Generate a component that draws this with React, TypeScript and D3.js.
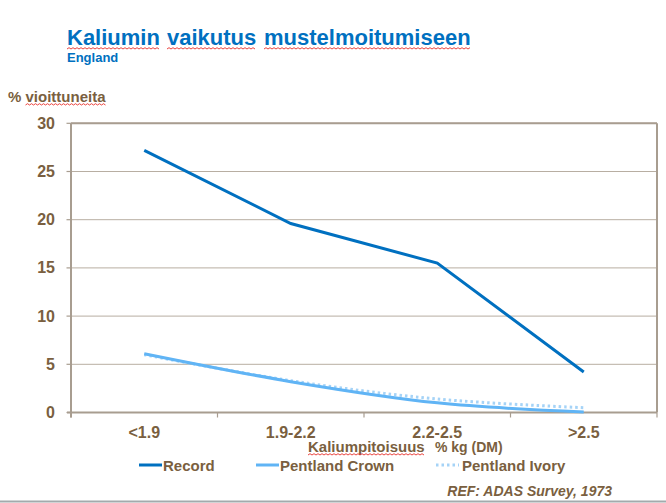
import React from 'react';
import * as d3 from 'd3';

const categories = ['<1.9', '1.9-2.2', '2.2-2.5', '>2.5'];
const recordValues = [27.2, 19.6, 15.5, 4.2];
const crownValues = [6.1, 3.2, 1.0, 0.05];
const ivoryValues = [6.0, 3.3, 1.4, 0.5];
const yTicks = [0, 5, 10, 15, 20, 25, 30];
const seriesNames = ['Record', 'Pentland Crown', 'Pentland Ivory'];

const W = 666;
const H = 503;
const M = { left: 71, right: 657, top: 123.3, bottom: 412.5 };
const FONT = '"Liberation Sans", Arial, sans-serif';
const BROWN = '#7A5F40';
const BLUE = '#0070C0';
const GRID = '#B8AEA2';
const AXIS = '#A89D90';
const C_RECORD = '#0070C0';
const C_CROWN = '#60B4F5';
const C_IVORY = '#A5D3F7';

let ctx: CanvasRenderingContext2D | null = null;
function measure(text: string, font: string): number {
  if (!ctx) {
    const c = document.createElement('canvas');
    ctx = c.getContext('2d');
  }
  if (!ctx) return text.length * 8;
  ctx.font = font;
  return ctx.measureText(text).width;
}

function squiggle(x0: number, x1: number, y: number): string {
  let d = `M${x0},${y}`;
  let up = true;
  for (let x = x0 + 2; x <= x1; x += 2) {
    d += ` L${x},${up ? y - 1.3 : y}`;
    up = !up;
  }
  return d;
}

function Squiggle({ x0, x1, y }: { x0: number; x1: number; y: number }) {
  return <path d={squiggle(x0, x1, y)} fill="none" stroke="#E8302A" strokeWidth={0.9} />;
}

export default function App() {
  const x = d3.scaleBand<string>().domain(categories).range([M.left, M.right]);
  const y = d3.scaleLinear().domain([0, 30]).range([M.bottom, M.top]);
  const cx = (c: string) => (x(c) as number) + x.bandwidth() / 2;

  const lineLinear = d3
    .line<number>()
    .x((_, i) => cx(categories[i]))
    .y((d) => y(d));
  const lineSmooth = d3
    .line<number>()
    .x((_, i) => cx(categories[i]))
    .y((d) => y(d))
    .curve(d3.curveCatmullRom.alpha(0.5));

  const titleFont = `bold 22px ${FONT}`;
  const titleWords = ['Kaliumin', 'vaikutus', 'mustelmoitumiseen'];
  const titleX = [67, 167, 264];

  const yLabelFont = `bold 15px ${FONT}`;
  const pctW = measure('% ', yLabelFont);
  const viW = measure('vioittuneita', yLabelFont);

  const axFont = `bold 15px ${FONT}`;
  const kalW = measure('Kaliumpitoisuus', axFont);

  const legend = [
    { name: seriesNames[0], x: 139, color: C_RECORD, dash: undefined as string | undefined },
    { name: seriesNames[1], x: 256, color: C_CROWN, dash: undefined },
    { name: seriesNames[2], x: 436, color: C_IVORY, dash: '2.5,3' },
  ];

  return (
    <svg width={W} height={H} style={{ position: 'absolute', left: 0, top: 0, background: '#fff' }} fontFamily={FONT}>
      <rect x={0} y={0} width={W} height={H} fill="#fff" />
      {/* title */}
      {titleWords.map((w, i) => (
        <g key={w}>
          <text x={titleX[i]} y={45} fontSize={22} fontWeight="bold" fill={BLUE}>
            {w}
          </text>
          <Squiggle x0={titleX[i]} x1={titleX[i] + measure(w, titleFont)} y={49} />
        </g>
      ))}
      <text x={67} y={62} fontSize={13} fontWeight="bold" fill={BLUE}>
        England
      </text>

      {/* y label */}
      <text x={8} y={102} fontSize={15} fontWeight="bold" fill={BROWN}>
        % vioittuneita
      </text>
      <Squiggle x0={8 + pctW} x1={8 + pctW + viW} y={105} />

      {/* grid */}
      {yTicks.map((t) => (
        <g key={t}>
          <line x1={M.left} x2={M.right} y1={y(t)} y2={y(t)} stroke={GRID} strokeWidth={1} />
          <line x1={M.left - 4.5} x2={M.left} y1={y(t)} y2={y(t)} stroke={AXIS} strokeWidth={1.2} />
          <text x={55} y={y(t) + 5.5} textAnchor="end" fontSize={16} fontWeight="bold" fill={BROWN}>
            {t}
          </text>
        </g>
      ))}
      {/* border */}
      <line x1={M.left} x2={M.right} y1={M.top} y2={M.top} stroke={AXIS} strokeWidth={2} />
      <line x1={M.right} x2={M.right} y1={M.top} y2={M.bottom} stroke={AXIS} strokeWidth={2} />
      <line x1={M.left} x2={M.left} y1={M.top} y2={M.bottom + 5} stroke={AXIS} strokeWidth={2} />
      <line x1={M.left - 4} x2={M.right} y1={M.bottom} y2={M.bottom} stroke={AXIS} strokeWidth={2} />
      {[...categories.map((c) => x(c) as number), M.right].map((tx, i) => (
        <line key={i} x1={tx} x2={tx} y1={M.bottom} y2={M.bottom + 5} stroke={AXIS} strokeWidth={1.2} />
      ))}

      {/* series */}
      <path d={lineSmooth(ivoryValues) || ''} fill="none" stroke={C_IVORY} strokeWidth={3} strokeDasharray="2.5,3" />
      <path d={lineSmooth(crownValues) || ''} fill="none" stroke={C_CROWN} strokeWidth={3} />
      <path d={lineLinear(recordValues) || ''} fill="none" stroke={C_RECORD} strokeWidth={3} />

      {/* x labels */}
      {categories.map((c) => (
        <text key={c} x={cx(c)} y={438} textAnchor="middle" fontSize={16} fontWeight="bold" fill={BROWN}>
          {c}
        </text>
      ))}
      <text x={308} y={452} fontSize={15} fontWeight="bold" fill={BROWN}>
        Kaliumpitoisuus
      </text>
      <Squiggle x0={308} x1={308 + kalW} y={455} />
      <text x={435} y={452} fontSize={14} fontWeight="bold" fill={BROWN}>
        % kg (DM)
      </text>

      {/* legend */}
      {legend.map((l) => (
        <g key={l.name}>
          <line x1={l.x} x2={l.x + 23} y1={465} y2={465} stroke={l.color} strokeWidth={3} strokeDasharray={l.dash} />
          <text x={l.x + (l.dash ? 26 : 24)} y={471} fontSize={15} fontWeight="bold" fill={BROWN}>
            {l.name}
          </text>
        </g>
      ))}

      <text x={612} y={496} textAnchor="end" fontSize={14} fontWeight="bold" fontStyle="italic" fill={BROWN}>
        REF: ADAS Survey, 1973
      </text>
      <line x1={0} x2={W} y1={501.5} y2={501.5} stroke="#A3AAAC" strokeWidth={2} />
    </svg>
  );
}
